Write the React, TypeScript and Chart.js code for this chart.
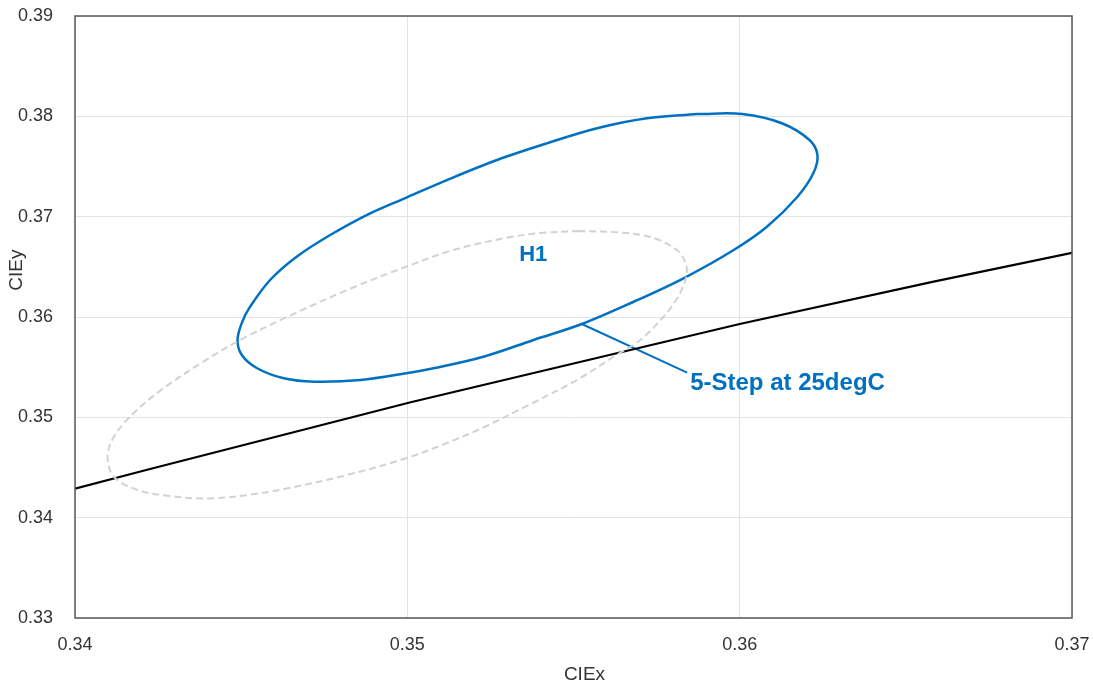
import React, { useEffect, useRef } from "react";
import { Chart, registerables } from "chart.js";

Chart.register(...registerables);

// Blue H1 ellipse (CIE x, y)
const h1X = [0.35872, 0.36008, 0.36127, 0.36210, 0.36234, 0.36222, 0.36174, 0.36082, 0.35982, 0.35831, 0.35681, 0.35525, 0.35380, 0.35229, 0.35079, 0.34997, 0.34859, 0.34720, 0.34628, 0.34548, 0.34502, 0.34489, 0.34503, 0.34527, 0.34587, 0.34667, 0.34768, 0.34888, 0.34999, 0.35119, 0.35270, 0.35420, 0.35571, 0.35721, 0.35872];
const h1Y = [0.38023, 0.38023, 0.37931, 0.37764, 0.37615, 0.37435, 0.37199, 0.36900, 0.36668, 0.36386, 0.36152, 0.35930, 0.35771, 0.35604, 0.35489, 0.35439, 0.35372, 0.35355, 0.35389, 0.35489, 0.35621, 0.35771, 0.35950, 0.36103, 0.36369, 0.36601, 0.36817, 0.37033, 0.37193, 0.37365, 0.37565, 0.37731, 0.37881, 0.37980, 0.38023];

// Grey dashed 5-step ellipse
const stepX = [0.35514, 0.35641, 0.35737, 0.35811, 0.35836, 0.35841, 0.35830, 0.35809, 0.35771, 0.35701, 0.35621, 0.35510, 0.35355, 0.35234, 0.35117, 0.34996, 0.34819, 0.34640, 0.34521, 0.34400, 0.34283, 0.34188, 0.34117, 0.34098, 0.34117, 0.34176, 0.34259, 0.34378, 0.34497, 0.34640, 0.34819, 0.34996, 0.35144, 0.35295, 0.35400, 0.35514];
const stepY = [0.36857, 0.36842, 0.36792, 0.36668, 0.36548, 0.36428, 0.36309, 0.36169, 0.36003, 0.35771, 0.35604, 0.35372, 0.35106, 0.34907, 0.34741, 0.34592, 0.34425, 0.34293, 0.34226, 0.34191, 0.34216, 0.34276, 0.34408, 0.34607, 0.34807, 0.35040, 0.35272, 0.35538, 0.35771, 0.36003, 0.36269, 0.36501, 0.36673, 0.36787, 0.36837, 0.36857];

// Black locus line
const locusX = [0.34, 0.3422, 0.3501, 0.3600, 0.3658, 0.37];
const locusY = [0.3429, 0.3448, 0.3515, 0.3593, 0.3635, 0.3664];

// Leader line for annotation
const leaderX = [0.35525, 0.35842];
const leaderY = [0.35930, 0.35445];

// Text labels
const labelTexts = ["H1", "5-Step at 25degC"];
const labelX = [0.35379, 0.35851];
const labelY = [0.36618, 0.35342];

const xTicks = [0.34, 0.35, 0.36, 0.37];
const yTicks = [0.33, 0.34, 0.35, 0.36, 0.37, 0.38, 0.39];

const toPts = (xs: number[], ys: number[]) => xs.map((x, i) => ({ x, y: ys[i] }));

const BLUE = "#0070C0";
const FONT = "'Liberation Sans', Arial, sans-serif";

export default function App() {
  const ref = useRef<HTMLCanvasElement | null>(null);

  useEffect(() => {
    if (!ref.current) return;
    const overlay = {
      id: "overlay",
      afterDatasetsDraw(chart: any) {
        const { ctx, chartArea, scales } = chart;
        ctx.save();
        ctx.strokeStyle = "#595959";
        ctx.lineWidth = 1.5;
        ctx.strokeRect(chartArea.left, chartArea.top, chartArea.right - chartArea.left, chartArea.bottom - chartArea.top);
        ctx.fillStyle = BLUE;
        ctx.textBaseline = "middle";
        labelTexts.forEach((t, i) => {
          const px = scales.x.getPixelForValue(labelX[i]);
          const py = scales.y.getPixelForValue(labelY[i]);
          ctx.font = i === 0 ? `bold 22px ${FONT}` : `bold 24px ${FONT}`;
          ctx.textAlign = i === 0 ? "center" : "left";
          ctx.fillText(t, px, py);
        });
        ctx.fillStyle = "#333";
        ctx.font = `19px ${FONT}`;
        ctx.textAlign = "center";
        ctx.fillText("CIEx", chartArea.left + (chartArea.right - chartArea.left) * 0.511, 675);
        ctx.translate(17, chartArea.top + (chartArea.bottom - chartArea.top) * 0.422);
        ctx.rotate(-Math.PI / 2);
        ctx.fillText("CIEy", 0, 0);
        ctx.restore();
      },
    };

    const chart = new Chart(ref.current, {
      type: "scatter",
      data: {
        datasets: [
          {
            data: toPts(stepX, stepY),
            showLine: true,
            borderColor: "#d2d2d2",
            borderWidth: 2,
            borderDash: [7, 4],
            pointRadius: 0,
            tension: 0.35,
          },
          {
            data: toPts(locusX, locusY),
            showLine: true,
            borderColor: "#000000",
            borderWidth: 2.2,
            pointRadius: 0,
            tension: 0,
          },
          {
            data: toPts(h1X, h1Y),
            showLine: true,
            borderColor: BLUE,
            borderWidth: 2.5,
            pointRadius: 0,
            tension: 0.35,
          },
          {
            data: toPts(leaderX, leaderY),
            showLine: true,
            borderColor: BLUE,
            borderWidth: 2,
            pointRadius: 0,
          },
        ],
      },
      options: {
        animation: false,
        responsive: false,
        maintainAspectRatio: false,
        layout: { autoPadding: false, padding: { left: 0, top: 16, right: 21, bottom: 0 } },
        plugins: { legend: { display: false }, tooltip: { enabled: false } },
        scales: {
          x: {
            type: "linear",
            min: 0.34,
            max: 0.37,
            afterFit: (s: any) => { s.height = 71; s.paddingLeft = 0; s.paddingRight = 0; },
            afterBuildTicks: (s: any) => { s.ticks = xTicks.map((v) => ({ value: v })); },
            grid: { color: "#e3e3e3", drawTicks: false, lineWidth: 1 },
            border: { display: false },
            ticks: {
              padding: 16,
              color: "#333",
              font: { family: FONT, size: 18 },
              maxRotation: 0,
              callback: (v: any) => Number(v).toFixed(2),
            },
          },
          y: {
            type: "linear",
            min: 0.33,
            max: 0.39,
            afterFit: (s: any) => { s.width = 75; s.paddingTop = 0; s.paddingBottom = 0; },
            afterBuildTicks: (s: any) => { s.ticks = yTicks.map((v) => ({ value: v })); },
            grid: { color: "#e3e3e3", drawTicks: false, lineWidth: 1 },
            border: { display: false },
            ticks: {
              padding: 22,
              color: "#333",
              font: { family: FONT, size: 18 },
              callback: (v: any) => Number(v).toFixed(2),
            },
          },
        },
      },
      plugins: [overlay],
    });
    return () => chart.destroy();
  }, []);

  return (
    <div style={{ position: "absolute", left: 0, top: 0, width: 1093, height: 689, background: "#fff" }}>
      <canvas ref={ref} width={1093} height={689} style={{ display: "block" }} />
    </div>
  );
}
